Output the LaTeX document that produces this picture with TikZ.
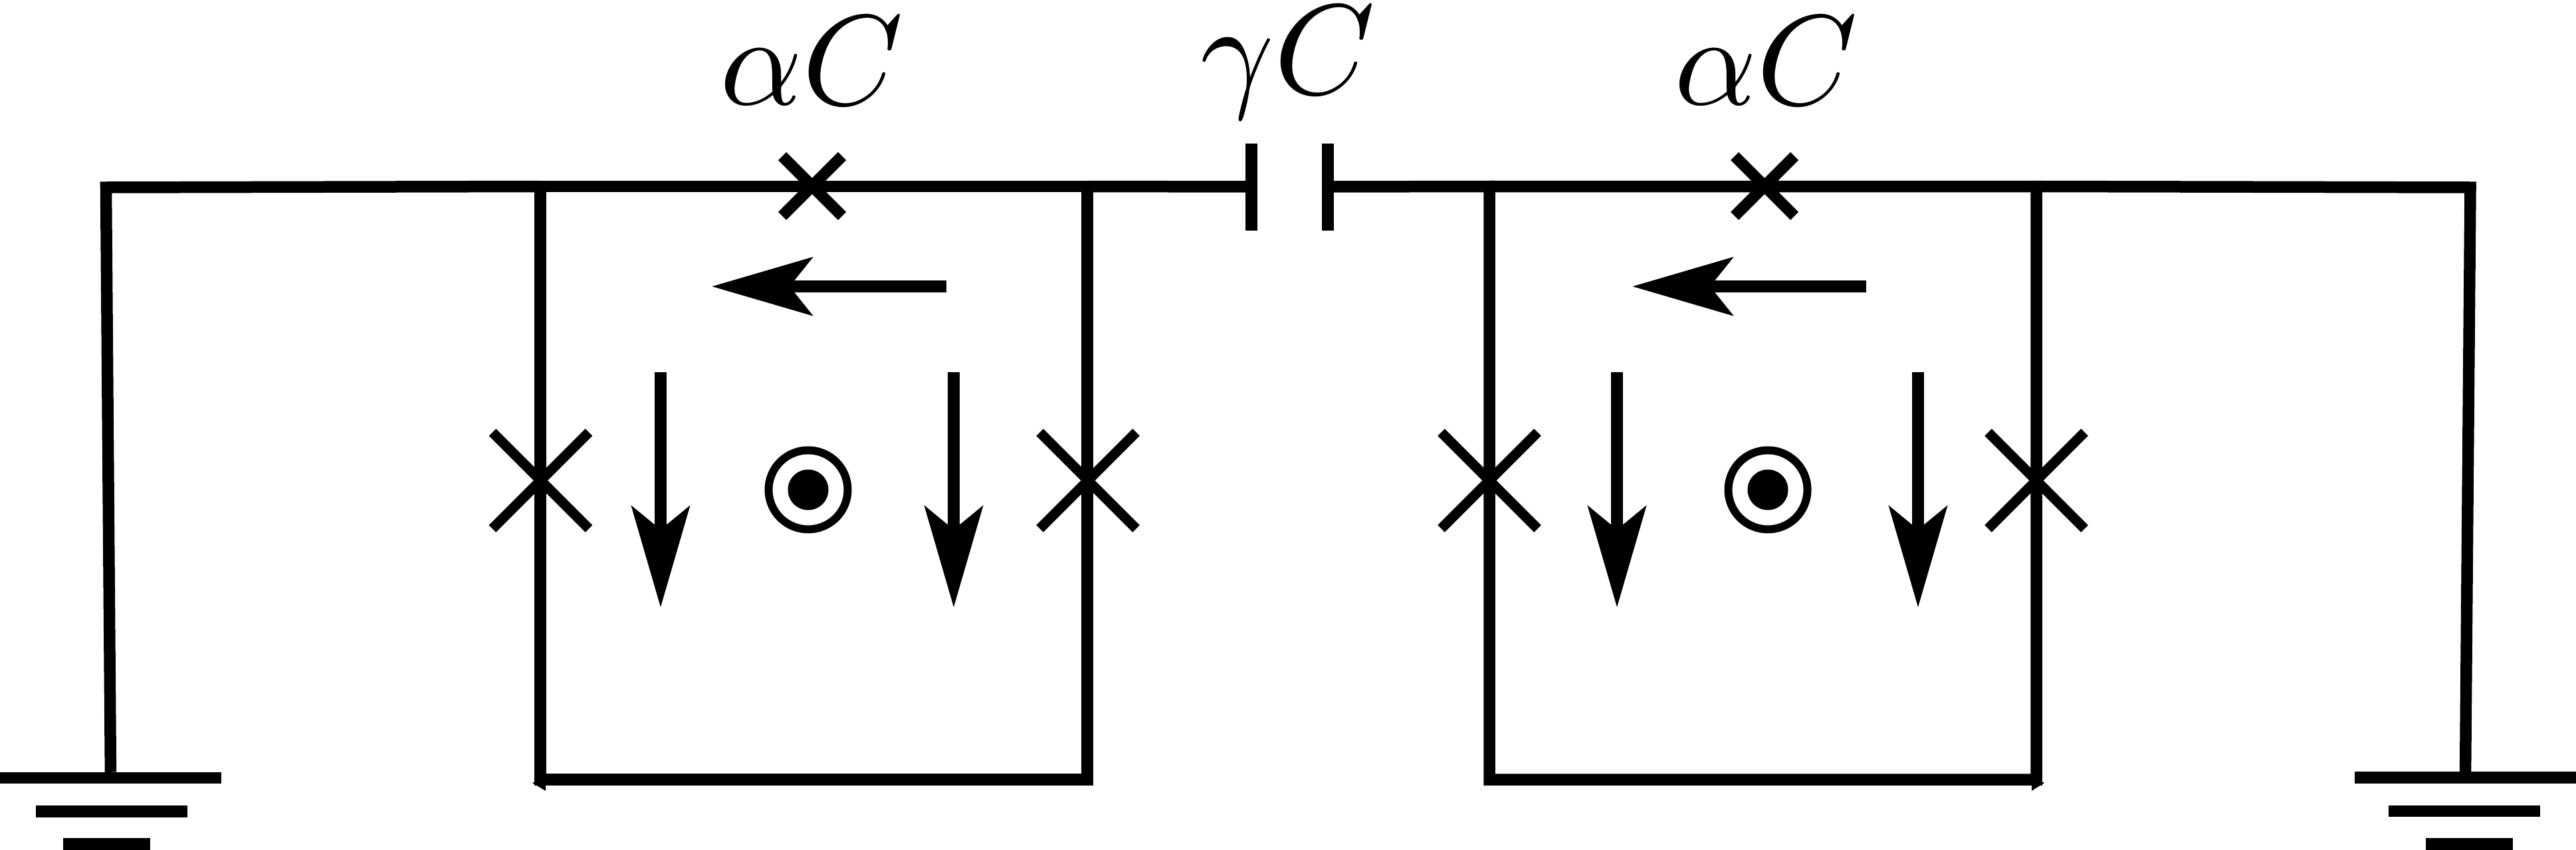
\documentclass[tikz,border=0pt]{standalone}
\usepackage{amsmath}
\usepackage{tikz}
\usetikzlibrary{arrows.meta,shapes.misc}

\begin{document}
\begin{tikzpicture}[draw=black,outer sep=0pt]
    \tikzstyle{wire}=[line join=miter,line width=0.175cm]
    \tikzstyle{current arrow}=[-{Stealth[length=1.51cm,width=0.87cm,inset=0.34cm]},line width=0.175cm]
    \tikzstyle{down arrow}=[-{Stealth[length=1.52cm,width=0.87cm,inset=0.35cm]},line width=0.18cm]
    \tikzstyle{junction}=[cross out,draw,inner sep=0pt,line width=0.15cm]
    \tikzstyle{side junction}=[junction,minimum size=1.45cm]
    \tikzstyle{top junction}=[junction,minimum size=0.9cm,line width=0.17cm]
    \tikzstyle{bar}=[rectangle,fill=black,inner sep=0pt,minimum height=0.175cm]
    \tikzstyle{plate}=[bar,minimum width=0.175cm,minimum height=1.31cm]
    \tikzstyle{flux ring}=[circle,draw,inner sep=0pt,minimum size=1.19cm,line width=0.12cm]
    \tikzstyle{flux dot}=[circle,fill=black,inner sep=0pt,minimum size=0.61cm]
    \tikzstyle{annot}=[anchor=base,inner sep=0pt,scale=5.5]

    % Ground bars
    \node[bar,minimum width=3.33cm] (G-11) at (1.665,-11.705) {};
    \node[bar,minimum width=2.28cm] (G-12) at (1.68,-12.21) {};
    \node[bar,minimum width=1.31cm] (G-13) at (1.605,-12.70) {};
    \node[bar,minimum width=3.33cm] (G-21) at (37.095,-11.70) {};
    \node[bar,minimum width=2.28cm] (G-22) at (37.08,-12.205) {};
    \node[bar,minimum width=1.31cm] (G-23) at (37.155,-12.70) {};

    % Corners of the wires and the two loops
    \coordinate (W-1) at (1.595,-2.82);
    \coordinate (W-2) at (37.17,-2.82);
    \coordinate (L-1) at (8.13,-2.805);
    \coordinate (L-2) at (8.13,-11.73);
    \coordinate (L-3) at (16.36,-11.73);
    \coordinate (L-4) at (16.36,-2.805);
    \coordinate (R-1) at (22.41,-2.805);
    \coordinate (R-2) at (22.41,-11.73);
    \coordinate (R-3) at (30.64,-11.73);
    \coordinate (R-4) at (30.64,-2.805);

    % Capacitor plates
    \node[plate] (P-1) at (18.83,-2.81) {};
    \node[plate] (P-2) at (19.98,-2.81) {};

    \draw[wire] (G-11) -- (W-1) -- (L-1);
    \draw[wire] (G-21) -- (W-2) -- (R-4);
    \draw[wire] (L-1) -- (L-2) -- (L-3) -- (L-4) -- (L-1);
    \draw[wire] (L-4) -- (P-1);
    \draw[wire] (P-2) -- (R-1) -- (R-2) -- (R-3) -- (R-4) -- (R-1);
    \fill (8.01,-11.78) -- (8.21,-11.90) -- (8.21,-11.70) -- cycle;
    \fill (30.76,-11.78) -- (30.57,-11.90) -- (30.57,-11.70) -- cycle;

    % Junctions
    \node[top junction] (J-1) at (12.22,-2.80) {};
    \node[top junction] (J-2) at (26.55,-2.80) {};
    \node[side junction] (J-3) at (8.135,-7.23) {};
    \node[side junction] (J-4) at (16.37,-7.23) {};
    \node[side junction] (J-5) at (22.41,-7.23) {};
    \node[side junction] (J-6) at (30.64,-7.23) {};

    % Circulating currents
    \coordinate (A-1) at (14.24,-4.31);
    \coordinate (A-2) at (10.71,-4.31);
    \coordinate (A-3) at (28.08,-4.31);
    \coordinate (A-4) at (24.56,-4.31);
    \draw[current arrow] (A-1) -- (A-2);
    \draw[current arrow] (A-3) -- (A-4);

    \coordinate (D-1) at (9.94,-5.60);
    \coordinate (D-2) at (9.94,-9.14);
    \coordinate (D-3) at (14.35,-5.60);
    \coordinate (D-4) at (14.35,-9.14);
    \coordinate (D-5) at (24.33,-5.60);
    \coordinate (D-6) at (24.33,-9.14);
    \coordinate (D-7) at (28.86,-5.60);
    \coordinate (D-8) at (28.86,-9.14);
    \draw[down arrow] (D-1) -- (D-2);
    \draw[down arrow] (D-3) -- (D-4);
    \draw[down arrow] (D-5) -- (D-6);
    \draw[down arrow] (D-7) -- (D-8);

    % Flux through the loops
    \node[flux ring] (F-1) at (12.16,-7.37) {};
    \node[flux dot] (E-1) at (12.16,-7.37) {};
    \node[flux ring] (F-2) at (26.60,-7.37) {};
    \node[flux dot] (E-2) at (26.60,-7.37) {};

    % Annotate the capacitances
    \node[annot] (T-1) at (12.22,-1.57) {$\alpha C$};
    \node[annot] (T-2) at (19.38,-1.41) {$\gamma C$};
    \node[annot] (T-3) at (26.58,-1.57) {$\alpha C$};

    \useasboundingbox (0,0) rectangle (38.76,-12.78);
\end{tikzpicture}
\end{document}
